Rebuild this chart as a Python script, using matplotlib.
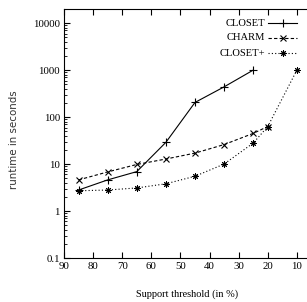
import matplotlib
matplotlib.use("Agg")
import matplotlib.pyplot as plt
from matplotlib.lines import Line2D
from matplotlib.ticker import LogLocator, NullFormatter

# ---- data ----
closet_x = [85, 75, 65, 55, 45, 35, 25]
closet_y = [2.8, 4.6, 6.9, 29, 205, 440, 1000]
charm_x = [85, 75, 65, 55, 45, 35, 25, 20]
charm_y = [4.6, 6.8, 9.8, 12.8, 17.1, 26, 45, 63]
closetp_x = [85, 75, 65, 55, 45, 35, 25, 20, 10]
closetp_y = [2.7, 2.8, 3.1, 3.8, 5.5, 10, 28, 63, 1000]

series_names = ["CLOSET", "CHARM", "CLOSET+"]
x_ticks = [90, 80, 70, 60, 50, 40, 30, 20, 10]
y_ticks = [0.1, 1, 10, 100, 1000, 10000]
y_tick_labels = ["0.1", "1", "10", "100", "1000", "10000"]

serif = ["Liberation Serif", "DejaVu Serif"]
fs_tick = 7.8
fs_leg = 7.6
fs_lab = 7.4

fig = plt.figure(figsize=(3.07, 3.02), dpi=100)
W, H = 307, 302
left, right, top, bottom = 64, 326, 9, 258
ax = fig.add_axes([left / W, 1 - bottom / H, (right - left) / W, (bottom - top) / H])

ast = (8, 2, 0)
styles = [
    dict(color="black", lw=0.8, ls="-", marker="+", ms=5.5, mew=0.8),
    dict(color="black", lw=0.8, ls=(0, (3, 2)), marker="x", ms=4.0, mew=0.8),
    dict(color="black", lw=0.8, ls=(0, (1, 2)), marker=ast, ms=4.6, mew=0.7),
]
data = [(closet_x, closet_y), (charm_x, charm_y), (closetp_x, closetp_y)]
for (xs, ys), st in zip(data, styles):
    ax.plot(xs, ys, clip_on=False, **st)

ax.set_yscale("log")
ax.set_xlim(90, 0)
ax.set_ylim(0.1, 2e4)

ax.set_xticks(x_ticks)
ax.set_xticklabels([str(v) for v in x_ticks], fontfamily=serif, fontsize=fs_tick)
ax.set_yticks(y_ticks)
ax.set_yticklabels(y_tick_labels, fontfamily=serif, fontsize=fs_tick)
ax.yaxis.set_minor_locator(LogLocator(base=10, subs=range(2, 10)))
ax.yaxis.set_minor_formatter(NullFormatter())

ax.tick_params(axis="x", which="major", direction="in", length=4, width=0.8,
               top=True, bottom=True, pad=3)
ax.tick_params(axis="y", which="major", direction="in", length=4, width=0.8,
               left=True, right=True, pad=3)
ax.tick_params(axis="y", which="minor", direction="in", length=2, width=0.6,
               left=True, right=True)
for s in ax.spines.values():
    s.set_linewidth(0.8)

ax.set_xlabel("Support threshold (in %)", fontfamily=serif, fontsize=fs_lab)
ax.xaxis.set_label_coords((187.5 - left) / (right - left), -(294 - bottom) / (bottom - top))
ax.xaxis.label.set_va("center")
ax.set_ylabel("runtime in seconds", fontfamily=["DejaVu Sans"], fontsize=7.4, color="#333333")
ax.yaxis.set_label_coords((14 - left) / (right - left), (bottom - 140) / (bottom - top))
ax.yaxis.label.set_va("center")

# manual legend (text right-aligned, sample line on right)
rows_px = [23, 38, 53]
tx = (265 - left) / (right - left)
lx0 = (268 - left) / (right - left)
lx1 = (297 - left) / (right - left)
for name, st, ypx in zip(series_names, styles, rows_px):
    yy = (bottom - ypx) / (bottom - top)
    ax.text(tx, yy, name, transform=ax.transAxes, ha="right", va="center",
            fontfamily=serif, fontsize=fs_leg)
    ln = Line2D([lx0, lx1], [yy, yy], transform=ax.transAxes, color="black",
                lw=st["lw"], ls=st["ls"], clip_on=False)
    ax.add_line(ln)
    mk = Line2D([(lx0 + lx1) / 2], [yy], transform=ax.transAxes, color="black",
                marker=st["marker"], ms=st["ms"], mew=st["mew"], ls="none", clip_on=False)
    ax.add_line(mk)

fig.savefig("out.png", dpi=100)
